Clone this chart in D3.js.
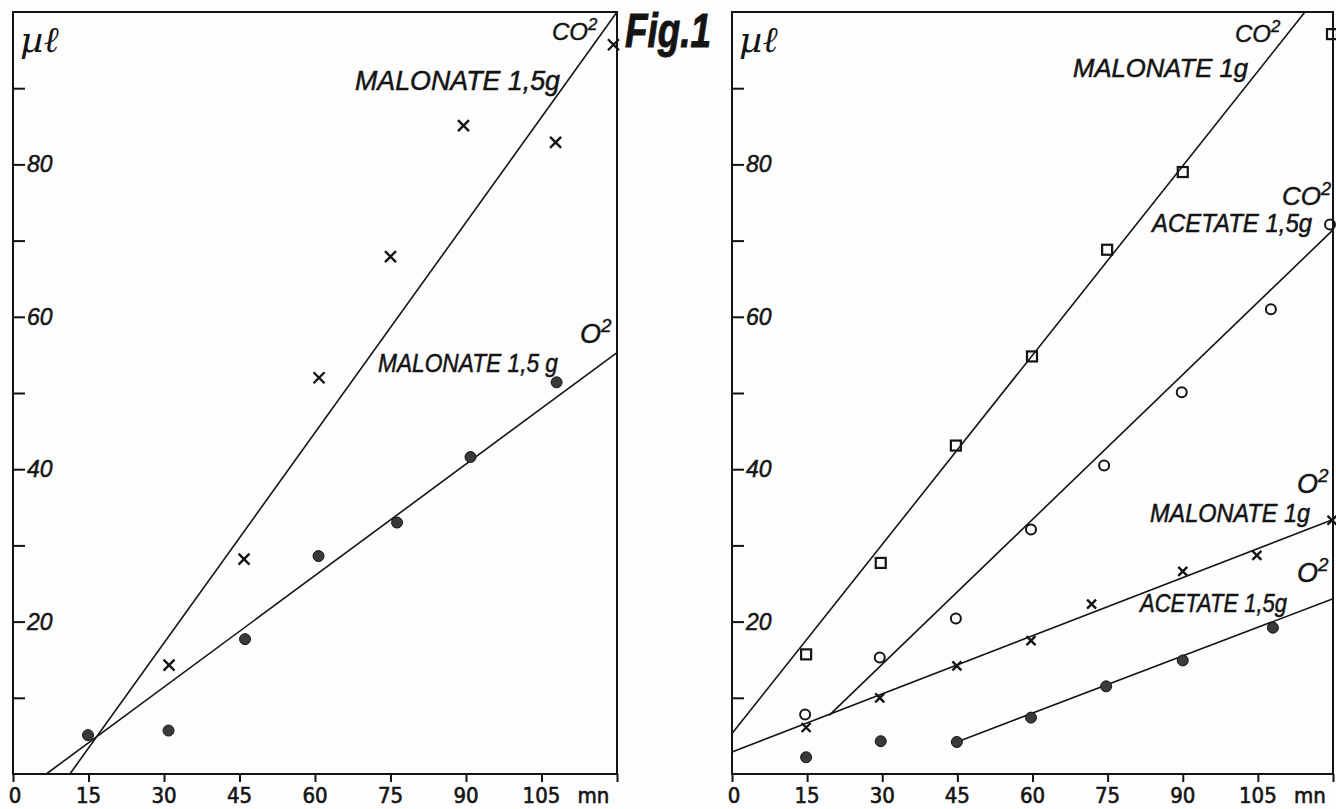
<!DOCTYPE html>
<html>
<head>
<meta charset="utf-8">
<script src="https://cdn.jsdelivr.net/npm/d3@7"></script>
<style>
  body { margin: 0; background: #fdfdfd; }
  svg { display: block; }
  text { fill: #141414; }
</style>
</head>
<body>
<div id="chart"></div>
<script>
// time axis (mn) and µl axis
const timeTicks = [0, 15, 30, 45, 60, 75, 90, 105];
const yLabelTicks = [20, 40, 60, 80];
const yPlainTicks = [10, 30, 50, 70, 90];

// left panel: malonate 1,5 g
const leftCo2Malonate = [[31, 14.3], [45.9, 28.2], [60.8, 52.0], [75, 67.9], [89.5, 85.1], [107.8, 82.9], [119.3, 95.7]];
const leftO2Malonate = [[14.9, 5.1], [30.9, 5.7], [46.1, 17.7], [60.7, 28.6], [76.3, 33.0], [90.9, 41.6], [108, 51.4]];
const leftCo2Line = [[11.3, 0], [120, 100]];
const leftO2Line = [[6.6, 0], [120, 55.3]];

// right panel: malonate 1 g / acetate 1,5 g
const rightCo2Malonate = [[14.8, 15.7], [29.7, 27.7], [44.7, 43.1], [59.9, 54.8], [74.9, 68.8], [90, 79.0], [119.8, 97.1]];
const rightCo2Acetate = [[14.6, 7.8], [29.5, 15.3], [44.7, 20.4], [59.7, 32.1], [74.3, 40.5], [89.8, 50.1], [107.6, 61.0], [119.4, 72.1]];
const rightO2Malonate = [[14.8, 6.1], [29.5, 10.0], [44.9, 14.2], [59.7, 17.5], [71.8, 22.3], [90, 26.6], [104.8, 28.7], [119.8, 33.3]];
const rightO2Acetate = [[14.8, 2.2], [29.7, 4.3], [44.9, 4.2], [59.7, 7.4], [74.7, 11.5], [90, 14.9], [108, 19.2]];
const rightCo2MalLine = [[0, 5.3], [114.4, 100]];
const rightCo2AcLine = [[19.4, 7.7], [120, 71.4]];
const rightO2MalLine = [[0, 2.9], [120, 33.4]];
const rightO2AcLine = [[44.9, 4.2], [120, 23.0]];

const width = 1336, height = 809;
const ink = '#141414';
const labelFont = '"Liberation Sans", Arial, sans-serif';

const svg = d3.select('#chart').append('svg')
  .attr('width', width)
  .attr('height', height);

svg.append('rect').attr('width', width).attr('height', height).attr('fill', '#fdfdfd');

function makePanel(left, right) {
  const x = d3.scaleLinear().domain([0, 120]).range([left, right]);
  const y = d3.scaleLinear().domain([0, 100]).range([774, 12]);
  const g = svg.append('g');

  // frame
  g.append('rect')
    .attr('x', left).attr('y', y(100))
    .attr('width', right - left).attr('height', y(0) - y(100))
    .attr('fill', 'none').attr('stroke', ink).attr('stroke-width', 2);

  // y ticks, inside the frame
  const yAxis = d3.axisRight(y).tickValues(yLabelTicks.concat(yPlainTicks)).tickSize(12).tickFormat('');
  g.append('g').attr('transform', `translate(${left},0)`).call(yAxis)
    .call(s => s.select('.domain').remove())
    .call(s => s.selectAll('line').attr('stroke', ink).attr('stroke-width', 2));
  g.selectAll('.ylab').data(yLabelTicks).join('text')
    .attr('x', left + 14).attr('y', d => y(d) + 8)
    .attr('font-family', labelFont).attr('font-style', 'italic')
    .attr('font-size', 23)
    .attr('stroke', ink).attr('stroke-width', 0.5)
    .text(d => d);

  // x ticks, below the axis
  const xAxis = d3.axisBottom(x).tickValues(timeTicks.concat([120])).tickSize(8).tickFormat('');
  g.append('g').attr('transform', `translate(0,${y(0)})`).call(xAxis)
    .call(s => s.select('.domain').remove())
    .call(s => s.selectAll('line').attr('stroke', ink).attr('stroke-width', 2));
  g.selectAll('.xlab').data(timeTicks).join('text')
    .attr('x', d => x(d) + (d === 0 ? 2 : 0)).attr('y', 803)
    .attr('text-anchor', 'middle')
    .attr('font-family', '"DejaVu Sans Condensed", "DejaVu Sans", sans-serif')
    .attr('font-size', 22)
    .attr('stroke', ink).attr('stroke-width', 0.6)
    .text(d => d);
  g.append('text')
    .attr('x', x(105) + 36).attr('y', 803)
    .attr('font-family', '"DejaVu Sans Condensed", "DejaVu Sans", sans-serif')
    .attr('font-size', 22)
    .attr('stroke', ink).attr('stroke-width', 0.6)
    .text('mn');

  // unit
  g.append('text')
    .attr('x', left + 7).attr('y', 52)
    .attr('font-family', '"DejaVu Serif", serif').attr('font-style', 'italic')
    .attr('font-size', 36)
    .text('µℓ');

  return {g, x, y};
}

const line = (p) => d3.line().x(d => p.x(d[0])).y(d => p.y(d[1]));

function drawLine(p, pts) {
  p.g.append('path').datum(pts)
    .attr('d', line(p))
    .attr('fill', 'none').attr('stroke', ink).attr('stroke-width', 1.6);
}

function drawCrosses(p, pts, r) {
  p.g.selectAll(null).data(pts).join('path')
    .attr('d', d => {
      const cx = p.x(d[0]), cy = p.y(d[1]);
      return `M${cx - r},${cy - r}L${cx + r},${cy + r}M${cx - r},${cy + r}L${cx + r},${cy - r}`;
    })
    .attr('stroke', ink).attr('stroke-width', 2.4).attr('fill', 'none');
}

function drawDots(p, pts) {
  p.g.selectAll(null).data(pts).join('circle')
    .attr('cx', d => p.x(d[0])).attr('cy', d => p.y(d[1]))
    .attr('r', 5.5).attr('fill', '#3a3a3a').attr('stroke', ink).attr('stroke-width', 1);
}

function drawRings(p, pts) {
  p.g.selectAll(null).data(pts).join('circle')
    .attr('cx', d => p.x(d[0])).attr('cy', d => p.y(d[1]))
    .attr('r', 5).attr('fill', 'none').attr('stroke', ink).attr('stroke-width', 2);
}

function drawSquares(p, pts) {
  p.g.selectAll(null).data(pts).join('rect')
    .attr('x', d => p.x(d[0]) - 5).attr('y', d => p.y(d[1]) - 5)
    .attr('width', 10).attr('height', 10)
    .attr('fill', 'none').attr('stroke', ink).attr('stroke-width', 2.2);
}

function label(p, txt, x, yb, size, len) {
  p.g.append('text')
    .attr('x', x).attr('y', yb)
    .attr('font-family', labelFont).attr('font-style', 'italic')
    .attr('font-size', size)
    .attr('stroke', ink).attr('stroke-width', 0.5)
    .attr('textLength', len).attr('lengthAdjust', 'spacingAndGlyphs')
    .text(txt);
}

function gas(p, base, x, yb, size) {
  const t = p.g.append('text')
    .attr('x', x).attr('y', yb)
    .attr('font-family', labelFont).attr('font-style', 'italic')
    .attr('font-size', size)
    .attr('stroke', ink).attr('stroke-width', 0.4);
  t.append('tspan').text(base);
  t.append('tspan').attr('dy', -size * 0.4).attr('font-size', size * 0.7).text('2');
}

// left panel
const L = makePanel(13, 617);
drawLine(L, leftCo2Line);
drawLine(L, leftO2Line);
drawCrosses(L, leftCo2Malonate, 5.5);
drawDots(L, leftO2Malonate);
gas(L, 'CO', 552, 40, 24);
label(L, 'MALONATE 1,5g', 355, 90, 27, 205);
gas(L, 'O', 580, 343, 27);
label(L, 'MALONATE 1,5 g', 378, 372, 25, 180);

// right panel
const R = makePanel(732, 1333);
drawLine(R, rightCo2MalLine);
drawLine(R, rightCo2AcLine);
drawLine(R, rightO2MalLine);
drawLine(R, rightO2AcLine);
drawSquares(R, rightCo2Malonate);
drawRings(R, rightCo2Acetate);
drawCrosses(R, rightO2Malonate, 4.5);
drawDots(R, rightO2Acetate);
gas(R, 'CO', 1235, 42, 24);
label(R, 'MALONATE 1g', 1073, 77, 25, 175);
gas(R, 'CO', 1282, 205, 26);
label(R, 'ACETATE 1,5g', 1152, 232, 25, 160);
gas(R, 'O', 1297, 493, 27);
label(R, 'MALONATE 1g', 1150, 522, 25, 160);
gas(R, 'O', 1297, 582, 27);
label(R, 'ACETATE 1,5g', 1140, 612, 25, 147);

// title between panels
svg.append('text')
  .attr('x', 625).attr('y', 47)
  .attr('font-family', labelFont).attr('font-style', 'italic').attr('font-weight', 'bold')
  .attr('font-size', 48)
  .attr('stroke', ink).attr('stroke-width', 1)
  .attr('textLength', 86).attr('lengthAdjust', 'spacingAndGlyphs')
  .text('Fig.1');
</script>
</body>
</html>
